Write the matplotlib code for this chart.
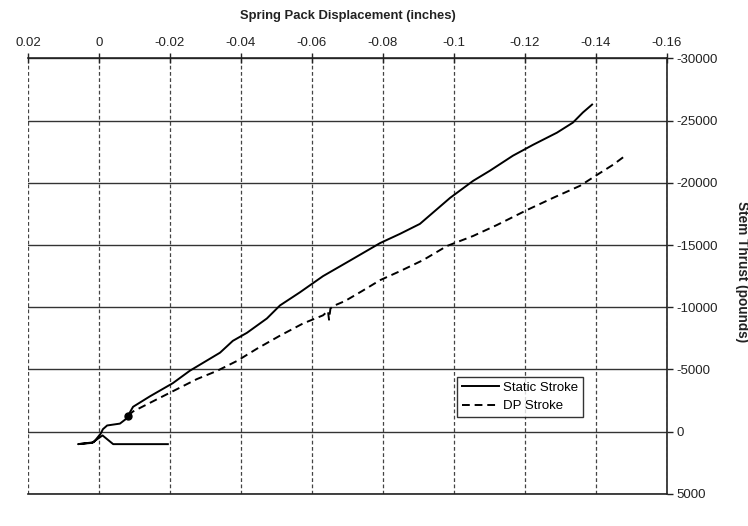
import numpy as np
import matplotlib
matplotlib.use("Agg")
import matplotlib.pyplot as plt

plt.rcParams['font.family'] = ['Liberation Sans', 'DejaVu Sans']

# spring pack displacement (in) vs stem thrust (lb), static stroke
static_disp = [-0.0194, -0.0040, -0.0010, 0.0020, 0.0059, 0.0015, -0.0005, -0.0011,
               -0.0023, -0.0059, -0.0075, -0.0082, -0.0096, -0.0144, -0.0208, -0.0256,
               -0.0341, -0.0377, -0.0417, -0.0473, -0.0510, -0.0566, -0.0631, -0.0707,
               -0.0792, -0.0848, -0.0904, -0.0989, -0.1054, -0.1101, -0.1166, -0.1223,
               -0.1290, -0.1335, -0.1363, -0.1389]
static_thrust = [1000, 1000, 300, 900, 1000, 850, 150, -200,
                 -500, -650, -1000, -1300, -2000, -2850, -3900, -4900,
                 -6350, -7300, -7950, -9100, -10150, -11200, -12500, -13750,
                 -15160, -15900, -16700, -18790, -20160, -20970, -22180, -23060,
                 -24030, -24840, -25650, -26290]

# DP stroke
dp_disp = [-0.0082, -0.0096, -0.0163, -0.0208, -0.0276, -0.0332, -0.0389, -0.0445,
           -0.0510, -0.0575, -0.0631, -0.0645, -0.0648, -0.0652, -0.0660, -0.0693,
           -0.0741, -0.0792, -0.0848, -0.0913, -0.0980, -0.1054, -0.1121, -0.1206,
           -0.1279, -0.1355, -0.1403, -0.1448, -0.1482]
dp_thrust = [-1300, -1626, -2600, -3250, -4230, -4880, -5690, -6670,
             -7720, -8700, -9350, -9700, -9000, -9900, -10100, -10500,
             -11300, -12180, -12900, -13790, -14920, -15730, -16610, -17820,
             -18790, -19760, -20640, -21450, -22170]

x_ticks = [0.02, 0, -0.02, -0.04, -0.06, -0.08, -0.1, -0.12, -0.14, -0.16]
x_labels = ['0.02', '0', '-0.02', '-0.04', '-0.06', '-0.08', '-0.1', '-0.12', '-0.14', '-0.16']
y_ticks = [-30000, -25000, -20000, -15000, -10000, -5000, 0, 5000]

fig = plt.figure(figsize=(7.48, 5.26), dpi=100)
ax = fig.add_axes([0.0374, 0.061, 0.8543, 0.828])

ax.plot(static_disp, static_thrust, '-', color='black', lw=1.4, label='Static Stroke')
# knot where the two strokes meet
ax.plot(static_disp[11], static_thrust[11], 'o', color='black', ms=5)
ax.plot(dp_disp, dp_thrust, '--', color='black', lw=1.4, dashes=(4, 2.5),
        label='DP Stroke')

ax.set_xlim(0.02, -0.16)
ax.set_ylim(5000, -30000)

ax.xaxis.tick_top()
ax.xaxis.set_label_position('top')
ax.yaxis.tick_right()
ax.yaxis.set_label_position('right')
ax.set_xticks(x_ticks)
ax.set_xticklabels(x_labels)
ax.set_yticks(y_ticks)
ax.set_yticklabels([str(v) for v in y_ticks])
ax.tick_params(axis='x', direction='inout', length=7, width=1, pad=3,
               labelsize=9.5, colors='#222222')
ax.tick_params(axis='y', direction='out', length=4, width=1, pad=3,
               labelsize=9.5, colors='#222222')

for v in y_ticks:
    ax.axhline(v, color='#333333', lw=1.0, zorder=0)
for v in x_ticks:
    ax.axvline(v, color='#444444', lw=0.9, ls=(0, (3, 2)), zorder=0)

ax.spines['left'].set_visible(False)
for s in ['top', 'right', 'bottom']:
    ax.spines[s].set_linewidth(1.2)
    ax.spines[s].set_color('#222222')

ax.set_xlabel('Spring Pack Displacement (inches)', fontsize=9.4,
              fontweight='bold', labelpad=13, color='#222222')
ax.set_ylabel('Stem Thrust (pounds)', fontsize=9.8, fontweight='bold',
              rotation=-90, color='#222222', va='center')
ax.yaxis.set_label_coords(1.117, 0.51)

leg = ax.legend(loc='lower left', bbox_to_anchor=(0.672, 0.177),
                fontsize=9.5, frameon=True, fancybox=False, handlelength=2.8,
                borderpad=0.35, labelspacing=0.45, handletextpad=0.3,
                borderaxespad=0)
leg.get_frame().set_edgecolor('black')
leg.get_frame().set_linewidth(1.0)

fig.savefig('out.png', dpi=100)
